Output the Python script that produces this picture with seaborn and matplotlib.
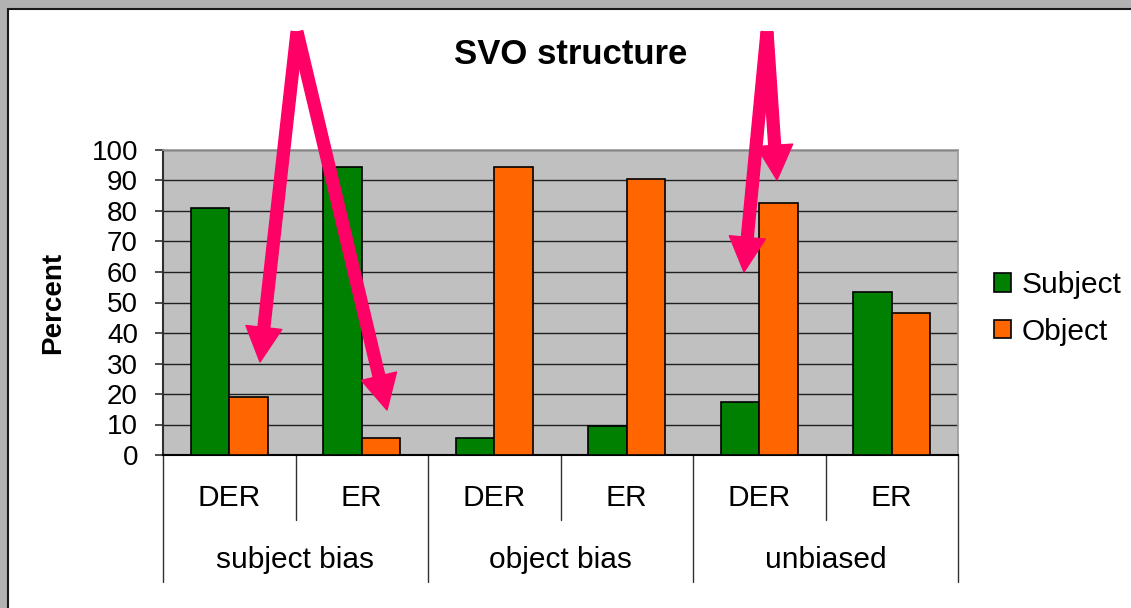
import matplotlib
matplotlib.use("Agg")
from matplotlib import pyplot as plt
from matplotlib.patches import Patch, Rectangle
import pandas as pd
import seaborn as sns

# data
bias_groups = ["subject bias", "object bias", "unbiased"]
structures = ["DER", "ER"]
subject_pct = [81, 94.5, 5.5, 9.5, 17.3, 53.4]
object_pct = [19, 5.5, 94.5, 90.5, 82.7, 46.6]
series = ["Subject", "Object"]
colors = ["#008000", "#FF6600"]
y_ticks = list(range(0, 101, 10))

cats = [f"{g}|{s}" for g in bias_groups for s in structures]
df = pd.DataFrame({
    "cat": cats * 2,
    "series": ["Subject"] * len(cats) + ["Object"] * len(cats),
    "pct": subject_pct + object_pct,
})

sns.set_style("white")
plt.rcParams["font.family"] = ["Liberation Sans", "DejaVu Sans"]
plt.rcParams.update({"text.color": "black", "axes.labelcolor": "black",
                     "xtick.color": "black", "ytick.color": "black"})

W, H = 1131, 608
fig = plt.figure(figsize=(W / 100, H / 100), dpi=100)
fig.patch.set_facecolor("#B2B2B2")
fig.add_artist(Rectangle((8 / W, -0.05), 1.1, (H - 9) / H + 0.05,
                         transform=fig.transFigure, facecolor="white",
                         edgecolor="#1a1a1a", lw=1.5, zorder=-10))

ax = fig.add_axes([163 / W, (H - 455) / H, 795 / W, 305 / H])
ax.set_facecolor("#C0C0C0")

sns.barplot(data=df, x="cat", y="pct", hue="series", order=cats,
            hue_order=series, palette=colors, width=0.58,
            edgecolor="black", linewidth=1.2, saturation=1,
            legend=False, ax=ax, zorder=3)

ax.set_ylim(0, 100)
ax.set_xlim(-0.5, len(cats) - 0.5)
ax.set_yticks(y_ticks)
ax.yaxis.grid(True, color="#202020", lw=1.0, zorder=0)
ax.set_axisbelow(True)
ax.tick_params(axis="y", labelsize=20, length=6, width=1.2,
               color="#303030", pad=12, left=True)
ax.set_xticks([])
ax.set_xlabel("")
ax.set_ylabel("Percent", fontsize=20, fontweight="bold")
ax.yaxis.set_label_coords(-0.122, 0.5)

for side in ["top", "right"]:
    ax.spines[side].set_color("#9A9A9A")
    ax.spines[side].set_linewidth(1.2)
ax.spines["left"].set_color("#303030")
ax.spines["left"].set_linewidth(1.5)
ax.spines["bottom"].set_color("black")
ax.spines["bottom"].set_linewidth(1.5)

# two-level category axis
xt = ax.get_xaxis_transform()
for i in range(len(cats)):
    ax.text(i, -0.141, cats[i].split("|")[1], transform=xt,
            ha="center", va="center", fontsize=21.5)
    if i % 2 == 1:
        ax.plot([i - 0.5, i - 0.5], [0, -0.213], transform=xt,
                color="#303030", lw=1.0, clip_on=False)
for k, g in enumerate(bias_groups):
    ax.text(2 * k + 0.5, -0.344, g, transform=xt,
            ha="center", va="center", fontsize=21.5)
for b in range(len(bias_groups) + 1):
    ax.plot([2 * b - 0.5, 2 * b - 0.5], [0, -0.416], transform=xt,
            color="#303030", lw=1.0, clip_on=False)

fig.text(571 / W, (H - 55) / H, "SVO structure", ha="center", va="center",
         fontsize=25, fontweight="bold")

handles = [Patch(facecolor=c, edgecolor="black", lw=1.2) for c in colors]
ax.legend(handles, series, loc="upper left",
          bbox_to_anchor=(994 / W, (H - 271) / H),
          bbox_transform=fig.transFigure, frameon=False, fontsize=21.5,
          handlelength=0.58, handleheight=0.58, handletextpad=0.33,
          labelspacing=0.62, borderpad=0, borderaxespad=0)

# pink annotation arrows
arrows = [((297, 32), (260, 362)), ((297, 32), (387, 410)),
          ((767, 32), (744, 272)), ((767, 32), (777, 180))]
for start, tip in arrows:
    ax.annotate("", xy=(tip[0], H - tip[1]), xytext=(start[0], H - start[1]),
                xycoords="figure pixels", textcoords="figure pixels",
                arrowprops=dict(arrowstyle="simple,head_length=2.5,head_width=2.6,tail_width=0.85",
                                color="#FF0066", mutation_scale=10,
                                shrinkA=0, shrinkB=0),
                zorder=20)

fig.savefig("out.png", dpi=100, facecolor=fig.get_facecolor())
